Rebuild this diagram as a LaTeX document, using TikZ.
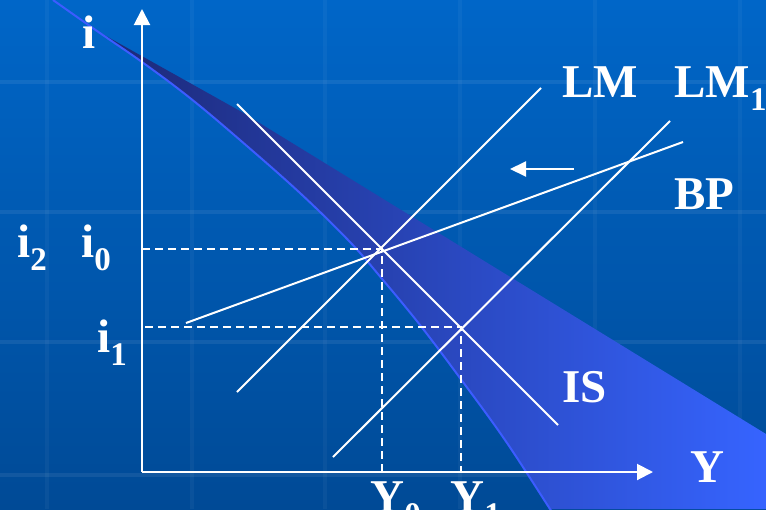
\documentclass[tikz,border=0pt]{standalone}
\usepackage{fontspec}
\setmainfont{Liberation Serif}
\usetikzlibrary{arrows.meta,positioning}
\definecolor{bgtop}{RGB}{0,102,200}
\definecolor{bgbot}{RGB}{0,74,150}
\definecolor{bandL}{RGB}{28,40,118}
\definecolor{bandR}{RGB}{54,100,255}
\definecolor{edgeblue}{RGB}{60,92,255}
\newcommand\lowsub[1]{{\fontsize{16.5}{18}\selectfont\raisebox{-6.5pt}{#1}}}

\begin{document}
\begin{tikzpicture}[x=0.5pt,y=-0.5pt,
  curve/.style={white, line width=1pt},
  guide/.style={white, line width=1pt, dash pattern=on 4pt off 2.5pt},
  axis/.style={white, line width=1pt, -{Triangle[length=8pt,width=8pt]}},
  lbl/.style={text=white, font=\bfseries\fontsize{23.5}{28}\selectfont, inner sep=0pt, anchor=base west}
]

% 背景
\useasboundingbox (0,0) rectangle (766,509);
\shade[top color=bgtop, bottom color=bgbot] (0,0) rectangle (766,509);
\foreach \gx in {47,192,325,460,595,740}
  \draw[white, opacity=0.04, line width=2pt] (\gx,0) -- (\gx,509);
\foreach \gy in {82,212,342,475}
  \draw[white, opacity=0.07, line width=2pt] (0,\gy) -- (766,\gy);

% 帯
\shade[left color=bandL, right color=bandR]
  (97,31) -- (240,111) -- (766,434) -- (766,509) -- (550,509)
  -- plot[smooth, tension=0.6] coordinates {(550,509) (505,440) (460,378) (420,325) (383,280) (350,242)
     (300,193) (240,140) (190,98) (142,62) (97,31)} -- cycle;
\draw[edgeblue, line width=1pt]
  plot[smooth, tension=0.6] coordinates {(557,520) (550,509) (505,440) (460,378) (420,325) (383,280) (350,242)
     (300,193) (240,140) (190,98) (142,62) (97,31) (53,0)};

% 軸
\coordinate (O) at (142,472);
\coordinate (Itop) at (142,9);
\coordinate (Yend) at (653,472);
\draw[axis] (O) -- (Itop);
\draw[axis] (O) -- (Yend);

% 均衡点
\coordinate (E0) at (382,249);
\coordinate (E1) at (461,327);

% 曲線
\coordinate (IS-a) at (237,104);
\coordinate (IS-b) at (558,425);
\coordinate (LM-a) at (237,392);
\coordinate (LM-b) at (541,88);
\coordinate (LMone-a) at (333,457);
\coordinate (LMone-b) at (670,121);
\coordinate (BP-a) at (186,323);
\coordinate (BP-b) at (683,142);
\draw[curve] (IS-a) -- (IS-b);
\draw[curve] (LM-a) -- (LM-b);
\draw[curve] (LMone-a) -- (LMone-b);
\draw[curve] (BP-a) -- (BP-b);

% 補助線
\coordinate (i0-ax) at (142,249);
\coordinate (i1-ax) at (145,327);
\coordinate (Y0-ax) at (382,472);
\coordinate (Y1-ax) at (461,472);
\draw[guide] (i0-ax) -- (E0) -- (Y0-ax);
\draw[guide] (i1-ax) -- (E1) -- (Y1-ax);

% 矢印
\coordinate (shift-a) at (574,169);
\coordinate (shift-b) at (510,169);
\draw[white, line width=1pt, -{Triangle[length=8pt,width=7.5pt]}] (shift-a) -- (shift-b);

% ラベル
\node[lbl] (i-lbl) at (82,48) {i};
\node[lbl] (i2-lbl) at (17,257) {i\lowsub{2}};
\node[lbl] (i0-lbl) at (81,257) {i\lowsub{0}};
\node[lbl] (i1-lbl) at (97,352) {i\lowsub{1}};
\node[lbl] (LM-lbl) at (562,97) {LM};
\node[lbl] (LMone-lbl) at (674,97) {LM\lowsub{1}};
\node[lbl] (BP-lbl) at (674,209) {BP};
\node[lbl] (IS-lbl) at (562,402) {IS};
\node[lbl] (Y-lbl) at (690,482) {Y};
\node[lbl] (Y0-lbl) at (370,512) {Y\lowsub{0}};
\node[lbl] (Y1-lbl) at (450,512) {Y\lowsub{1}};

\end{tikzpicture}
\end{document}
